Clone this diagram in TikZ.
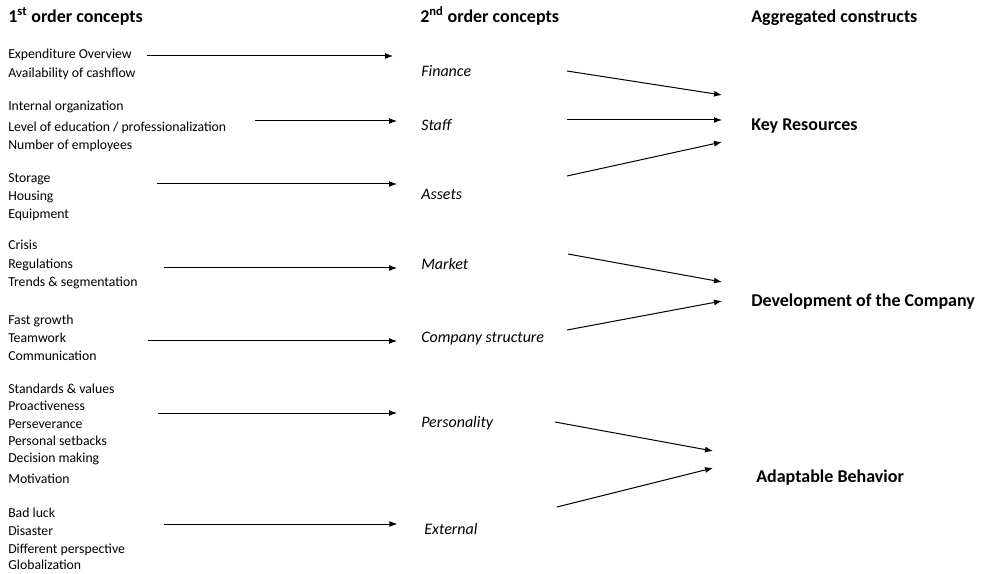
\documentclass[tikz,border=0pt]{standalone}
\usepackage{fontspec}
\setmainfont{Carlito}
\usetikzlibrary{arrows.meta}
\begin{document}
\begin{tikzpicture}[x=0.75pt,y=-0.75pt,
    item/.style={anchor=west,inner sep=0pt,yshift=-2.3pt,text height=0.7em,text depth=0.25em,font=\fontsize{10.3}{12}\selectfont},
    concept/.style={anchor=west,inner sep=0pt,yshift=-2.3pt,text height=0.7em,text depth=0.25em,font=\fontsize{12}{14}\selectfont\itshape},
    construct/.style={anchor=west,inner sep=0pt,yshift=-2.3pt,text height=0.7em,text depth=0.25em,font=\fontsize{13.5}{16}\selectfont\bfseries},
    arr/.style={-{Latex[length=6pt,width=4.5pt]},line width=0.75pt}]
        \useasboundingbox (0,0) rectangle (983,574);

        % Headings
        \node[construct] (h1) at (8,16) {1\textsuperscript{st} order concepts};
        \node[construct] (h2) at (420,16) {2\textsuperscript{nd} order concepts};
        \node[construct] (h3) at (751,16) {Aggregated constructs};

        % First order concepts
        \foreach \y/\t [count=\i] in {52/Expenditure Overview, 71/Availability of cashflow,
            104/Internal organization, 125/{Level of education / professionalization}, 143/Number of employees,
            176/Storage, 194/Housing, 212/Equipment,
            243/Crisis, 262/Regulations, 280/Trends \& segmentation,
            318/Fast growth, 336/Teamwork, 354/Communication,
            387/Standards \& values, 404/Proactiveness, 422/Perseverance, 439/Personal setbacks, 456/Decision making, 477/Motivation,
            511/Bad luck, 529/Disaster, 547/Different perspective, 563/Globalization}
            \node[item] (fo\i) at (8,\y) {\t};

        % Second order concepts
        \node[concept] (fin) at (421,70) {Finance};
        \node[concept] (staff) at (421,124) {Staff};
        \node[concept] (assets) at (421,193) {Assets};
        \node[concept] (market) at (421,263) {Market};
        \node[concept] (struct) at (421,336) {Company structure};
        \node[concept] (pers) at (421,421) {Personality};
        \node[concept] (ext) at (424,528) {External};

        % Aggregated constructs
        \node[construct] (kr) at (751,124) {Key Resources};
        \node[construct] (dev) at (751,300) {Development of the Company};
        \node[construct] (adapt) at (756,476) {Adaptable Behavior};

        % Coordinates
        \coordinate (s1) at (147,56);
        \coordinate (s2) at (255,121);
        \coordinate (s3) at (157,184);
        \coordinate (s4) at (164,268);
        \coordinate (s5) at (148,341);
        \coordinate (s6) at (158,413);
        \coordinate (s7) at (164,524);
        \coordinate (fin-out) at (567,71);
        \coordinate (staff-out) at (567,120);
        \coordinate (assets-out) at (567,176);
        \coordinate (market-out) at (568,254);
        \coordinate (struct-out) at (567,330);
        \coordinate (pers-out) at (555,422);
        \coordinate (ext-out) at (557,507);
        \coordinate (kr-a) at (722,95);
        \coordinate (kr-b) at (722,120);
        \coordinate (kr-c) at (722,142);
        \coordinate (dev-a) at (722,282);
        \coordinate (dev-b) at (722,301);
        \coordinate (adapt-a) at (713,451);
        \coordinate (adapt-b) at (713,468);

        % Draw first order arrows
        \draw[arr,shorten >=21pt] (s1) -- (s1 -| fin.west);
        \draw[arr,shorten >=18pt] (s2) -- (s2 -| staff.west);
        \draw[arr,shorten >=18pt] (s3) -- (s3 -| assets.west);
        \draw[arr,shorten >=18pt] (s4) -- (s4 -| market.west);
        \draw[arr,shorten >=18pt] (s5) -- (s5 -| struct.west);
        \draw[arr,shorten >=18pt] (s6) -- (s6 -| pers.west);
        \draw[arr,shorten >=20pt] (s7) -- (s7 -| ext.west);

        % Draw second order arrows
        \draw[arr] (fin-out) -- (kr-a);
        \draw[arr] (staff-out) -- (kr-b);
        \draw[arr] (assets-out) -- (kr-c);
        \draw[arr] (market-out) -- (dev-a);
        \draw[arr] (struct-out) -- (dev-b);
        \draw[arr] (pers-out) -- (adapt-a);
        \draw[arr] (ext-out) -- (adapt-b);
\end{tikzpicture}
\end{document}
